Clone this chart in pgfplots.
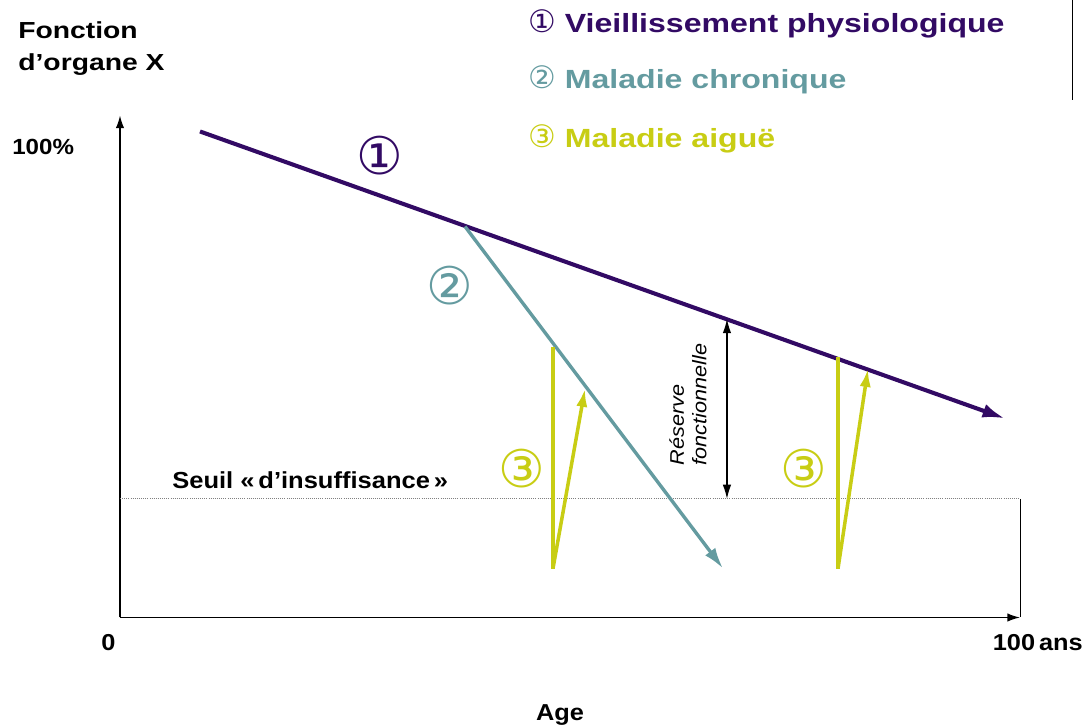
\documentclass[border=0pt]{standalone}
\usepackage{pgfplots}
\pgfplotsset{compat=1.18}
\usepackage{fontspec}
\setmainfont{Liberation Sans}[FakeStretch=1.1]
\newfontfamily\wide{Liberation Sans}[FakeStretch=1.22]
\newfontfamily\dejavu{DejaVu Sans}
\usetikzlibrary{arrows.meta}
\definecolor{cviolet}{RGB}{50,10,100}
\definecolor{cteal}{RGB}{100,155,160}
\definecolor{cyell}{RGB}{200,205,20}
\begin{document}
\begin{tikzpicture}[every node/.style={inner sep=0pt}]
\begin{axis}[
  scale only axis, width=22.5cm, height=12.55cm,
  xmin=0, xmax=100, ymin=0, ymax=103.29,
  axis lines=left,
  axis line style={line width=1pt, -{Latex[length=9pt,width=6pt]}},
  xtick=\empty, ytick=\empty,
  clip=false,
]
% bounding box of the whole picture
\path (axis cs:-13.333,-22.43) rectangle (axis cs:107.333,126.95);
% threshold
\addplot[gray, line width=0.5pt, densely dotted] coordinates {(0,24.42) (100,24.42)};
\addplot[black, line width=0.7pt] coordinates {(100,24.42) (100,0)};
% top-right artefact line
\addplot[black, line width=0.7pt] coordinates {(105.78,126.95) (105.78,106.4)};
% 1 physiological ageing
\addplot[cviolet, line width=2.9pt, -{Latex[length=16pt,width=10pt]}] coordinates {(8.89,100) (98.33,40.95)};
% 2 chronic disease
\addplot[cteal, line width=2.4pt, -{Latex[length=15pt,width=9pt]}] coordinates {(38.33,80.45) (67.0,10.08)};
% 3 acute disease
\addplot[cyell, line width=2.5pt] coordinates {(48.11,55.6) (48.11,10.08)};
\addplot[cyell, line width=2.5pt, -{Latex[length=13pt,width=8pt]}] coordinates {(48.11,10.08) (51.67,47.1)};
\addplot[cyell, line width=2.5pt] coordinates {(79.78,53.5) (79.78,10.08)};
\addplot[cyell, line width=2.5pt, -{Latex[length=13pt,width=8pt]}] coordinates {(79.78,10.08) (83.11,51.2)};
% functional reserve
\addplot[black, line width=0.8pt, {Latex[length=10pt,width=6pt]}-{Latex[length=10pt,width=6pt]}] coordinates {(67.44,24.42) (67.44,61.4)};
% texts
\node[anchor=base west, font=\wide\bfseries\fontsize{16.5}{18}\selectfont] at (axis cs:-11.33,119.14) {Fonction};
\node[anchor=base west, font=\wide\bfseries\fontsize{16.5}{18}\selectfont] at (axis cs:-11.33,112.55) {d’organe X};
\node[anchor=base west, font=\bfseries\fontsize{15.6}{18}\selectfont] at (axis cs:-12,95.27) {100\%};
\node[anchor=base, font=\bfseries\fontsize{16.4}{18}\selectfont] at (axis cs:-1.28,-6.79) {0};
\node[anchor=base east, font=\bfseries\fontsize{16.4}{18}\selectfont] at (axis cs:107.0,-6.79) {100\,ans};
\node[anchor=base, font=\bfseries\fontsize{16.4}{18}\selectfont] at (axis cs:48.89,-21.19) {Age};
\node[anchor=base west, font=\bfseries\fontsize{16.5}{18}\selectfont] at (axis cs:5.78,26.54) {Seuil «\,d’insuffisance\,»};
\node[rotate=90, anchor=west, align=left, font=\itshape\fontsize{14}{16}\selectfont] at (axis cs:63.11,31.28) {Réserve\\fonctionnelle};
% circled numbers
\node[text=cviolet, font=\dejavu\fontsize{37}{37}\selectfont] at (axis cs:28.89,95.06) {①};
\node[text=cteal, font=\dejavu\fontsize{37}{37}\selectfont] at (axis cs:36.67,68.31) {②};
\node[text=cyell, font=\dejavu\fontsize{37}{37}\selectfont] at (axis cs:44.67,30.66) {③};
\node[text=cyell, font=\dejavu\fontsize{37}{37}\selectfont] at (axis cs:76.0,30.66) {③};
% legend
\node[anchor=base west, text=cviolet, font=\wide\bfseries\fontsize{18.7}{20}\selectfont] at (axis cs:45.33,120.37) {{\dejavu\mdseries\fontsize{22}{22}\selectfont ①} Vieillissement physiologique};
\node[anchor=base west, text=cteal, font=\wide\bfseries\fontsize{18.7}{20}\selectfont] at (axis cs:45.33,108.85) {{\dejavu\mdseries\fontsize{22}{22}\selectfont ②} Maladie chronique};
\node[anchor=base west, text=cyell, font=\wide\bfseries\fontsize{18.7}{20}\selectfont] at (axis cs:45.33,96.7) {{\dejavu\mdseries\fontsize{22}{22}\selectfont ③} Maladie aiguë};
\end{axis}
\end{tikzpicture}
\end{document}
